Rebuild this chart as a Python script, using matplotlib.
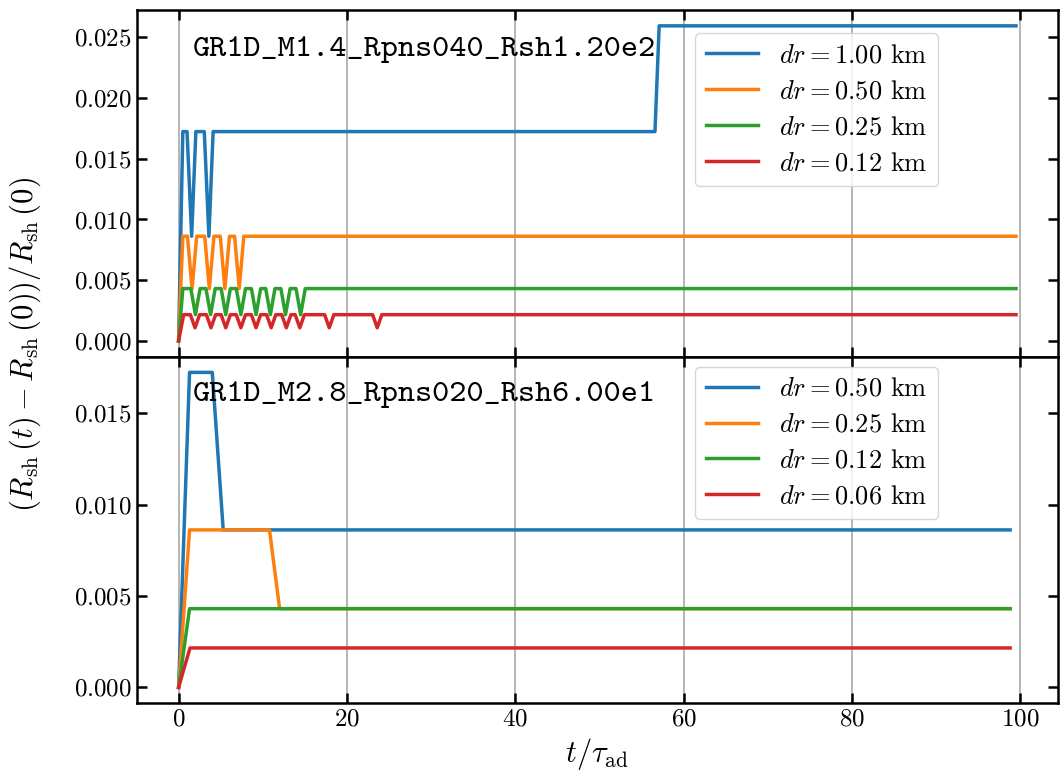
import matplotlib
matplotlib.use("Agg")
import matplotlib.pyplot as plt

plt.rcParams.update({
    'font.family': 'serif',
    'font.serif': ['cmr10'],
    'mathtext.fontset': 'cm',
    'axes.formatter.use_mathtext': True,
    'axes.unicode_minus': False,
    'font.size': 18,
})

# top run: GR1D_M1.4_Rpns040_Rsh1.20e2
top_name = 'GR1D_M1.4_Rpns040_Rsh1.20e2'
top_labels = [r'$dr = 1.00$ km', r'$dr = 0.50$ km', r'$dr = 0.25$ km', r'$dr = 0.12$ km']

t_top_100 = [0, 0.5, 1.0, 1.55, 2.05, 3.05, 3.6, 4.1, 56.6, 57.1, 99.5]
r_top_100 = [0, 0.01724, 0.01724, 0.00862, 0.01724, 0.01724, 0.00862, 0.01724, 0.01724, 0.02595, 0.02595]

t_top_050 = [0, 0.5, 1.05, 1.6, 2.15, 3.1, 3.65, 4.2, 4.95, 5.5, 6.05, 6.65, 7.2, 7.75, 99.5]
r_top_050 = [0, 0.00862, 0.00862, 0.00431, 0.00862, 0.00862, 0.00431, 0.00862, 0.00862, 0.00431,
             0.00862, 0.00862, 0.00431, 0.00862, 0.00862]

t_top_025 = [0, 0.5, 1.45, 2.0, 2.55, 3.25, 3.8, 4.35, 5.05, 5.6, 6.15, 6.85, 7.4, 7.95, 8.65, 9.2,
             9.75, 10.35, 10.9, 11.45, 12.15, 12.7, 13.25, 13.95, 14.5, 15.05, 99.5]
r_top_025 = [0, 0.00431, 0.00431, 0.00216, 0.00431, 0.00431, 0.00216, 0.00431, 0.00431, 0.00216,
             0.00431, 0.00431, 0.00216, 0.00431, 0.00431, 0.00216, 0.00431, 0.00431, 0.00216,
             0.00431, 0.00431, 0.00216, 0.00431, 0.00431, 0.00216, 0.00431, 0.00431]

t_top_012 = [0, 0.6, 1.4, 1.95, 2.5, 3.3, 3.85, 4.4, 5.05, 5.6, 6.15, 6.85, 7.4, 7.95, 8.65, 9.2,
             9.75, 10.45, 11.0, 11.55, 12.25, 12.8, 13.35, 13.85, 14.4, 14.95, 17.35, 17.9, 18.45,
             23.05, 23.6, 24.15, 99.5]
r_top_012 = [0, 0.00216, 0.00216, 0.00108, 0.00216, 0.00216, 0.00108, 0.00216, 0.00216, 0.00108,
             0.00216, 0.00216, 0.00108, 0.00216, 0.00216, 0.00108, 0.00216, 0.00216, 0.00108,
             0.00216, 0.00216, 0.00108, 0.00216, 0.00216, 0.00108, 0.00216, 0.00216, 0.00108,
             0.00216, 0.00216, 0.00108, 0.00216, 0.00216]

# bottom run: GR1D_M2.8_Rpns020_Rsh6.00e1
bot_name = 'GR1D_M2.8_Rpns020_Rsh6.00e1'
bot_labels = [r'$dr = 0.50$ km', r'$dr = 0.25$ km', r'$dr = 0.12$ km', r'$dr = 0.06$ km']

t_bot_050 = [0, 1.3, 4.0, 5.3, 98.8]
r_bot_050 = [0, 0.01724, 0.01724, 0.00862, 0.00862]
t_bot_025 = [0, 1.3, 10.8, 12.0, 98.8]
r_bot_025 = [0, 0.00862, 0.00862, 0.00431, 0.00431]
t_bot_012 = [0, 1.3, 98.8]
r_bot_012 = [0, 0.00431, 0.00431]
t_bot_006 = [0, 1.35, 98.8]
r_bot_006 = [0, 0.00216, 0.00216]

fig, (ax1, ax2) = plt.subplots(2, 1, sharex=True, figsize=(10.6, 7.77), dpi=100)
fig.subplots_adjust(left=0.129, right=0.998, top=0.987, bottom=0.095, hspace=0)

top_data = [(t_top_100, r_top_100), (t_top_050, r_top_050), (t_top_025, r_top_025), (t_top_012, r_top_012)]
bot_data = [(t_bot_050, r_bot_050), (t_bot_025, r_bot_025), (t_bot_012, r_bot_012), (t_bot_006, r_bot_006)]

for ax, data, labels, name, ytxt, leg_y in [(ax1, top_data, top_labels, top_name, 0.925, 0.933),
                                             (ax2, bot_data, bot_labels, bot_name, 0.93, 0.971)]:
    for (t, r), lab in zip(data, labels):
        ax.plot(t, r, lw=2.5, label=lab)
    ax.grid(axis='x', color='#b0b0b0', lw=1.3)
    ax.tick_params(direction='in', top=True, right=True, length=7, width=1.8, labelsize=18)
    for sp in ax.spines.values():
        sp.set_linewidth(1.8)
    ax.text(0.061, ytxt, name, transform=ax.transAxes, va='top', ha='left',
            family='cmtt10', fontsize=23.5)
    ax.legend(loc='upper left', bbox_to_anchor=(0.606, leg_y), borderaxespad=0, fontsize=19,
              handlelength=2.0, labelspacing=0.46)

ax1.set_yticks([0, 0.005, 0.010, 0.015, 0.020, 0.025])
ax2.set_yticks([0, 0.005, 0.010, 0.015])
ax2.set_xticks([0, 20, 40, 60, 80, 100])
ax2.set_xlabel(r'$t/\tau_{\rm ad}$', fontsize=22)
fig.text(0.024, 0.556, r'$(R_{\rm sh}\,(t) - R_{\rm sh}\,(0))/R_{\rm sh}\,(0)$', rotation=90,
         va='center', ha='center', fontsize=22)

fig.savefig('out.png', dpi=100)
